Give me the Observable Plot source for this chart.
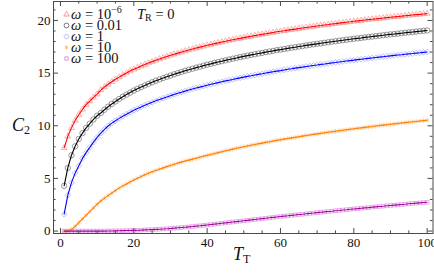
<!DOCTYPE html>
<html><head><meta charset="utf-8">
<script src="https://cdn.jsdelivr.net/npm/d3@7"></script>
<script src="https://cdn.jsdelivr.net/npm/@observablehq/plot@0.6"></script>
<style>body{margin:0;background:#fff} svg{display:block}</style>
</head><body><div id="chart"></div>
<script>
// x values (T_T)
const T = d3.range(1, 101);

const c2_w1e6 = [
  7.9, 9.0, 9.8, 10.5, 11.05, 11.55, 12.0, 12.35, 12.7, 13.0,
  13.39, 13.68, 13.94, 14.18, 14.41, 14.62, 14.82, 15.01, 15.19, 15.36,
  15.52, 15.67, 15.81, 15.96, 16.09, 16.22, 16.34, 16.46, 16.58, 16.69,
  16.80, 16.90, 17.00, 17.10, 17.20, 17.29, 17.38, 17.47, 17.55, 17.64,
  17.72, 17.80, 17.87, 17.95, 18.02, 18.10, 18.17, 18.24, 18.30, 18.37,
  18.44, 18.50, 18.56, 18.62, 18.68, 18.74, 18.80, 18.86, 18.92, 18.97,
  19.02, 19.08, 19.13, 19.18, 19.23, 19.28, 19.33, 19.38, 19.43, 19.48,
  19.52, 19.57, 19.61, 19.66, 19.70, 19.75, 19.79, 19.83, 19.87, 19.92,
  19.96, 20.00, 20.04, 20.08, 20.12, 20.15, 20.19, 20.23, 20.27, 20.31,
  20.34, 20.38, 20.41, 20.45, 20.48, 20.52, 20.55, 20.58, 20.62, 20.65
];
const c2_w001 = [
  4.3, 6.0, 7.2, 8.05, 8.75, 9.3, 9.8, 10.2, 10.6, 10.95,
  11.21, 11.52, 11.81, 12.07, 12.31, 12.54, 12.76, 12.96, 13.15, 13.34,
  13.51, 13.67, 13.83, 13.98, 14.13, 14.27, 14.40, 14.53, 14.65, 14.77,
  14.89, 15.00, 15.11, 15.22, 15.32, 15.42, 15.52, 15.61, 15.71, 15.80,
  15.88, 15.97, 16.05, 16.13, 16.21, 16.29, 16.37, 16.44, 16.52, 16.59,
  16.66, 16.73, 16.79, 16.86, 16.92, 16.99, 17.05, 17.11, 17.18, 17.23,
  17.29, 17.35, 17.41, 17.46, 17.52, 17.57, 17.63, 17.68, 17.73, 17.78,
  17.83, 17.88, 17.93, 17.98, 18.03, 18.08, 18.12, 18.17, 18.21, 18.26,
  18.30, 18.34, 18.39, 18.43, 18.47, 18.51, 18.55, 18.59, 18.64, 18.68,
  18.71, 18.75, 18.79, 18.83, 18.87, 18.90, 18.94, 18.98, 19.01, 19.05
];
const c2_w1 = [
  1.6, 3.4, 4.6, 5.5, 6.2, 6.9, 7.45, 7.95, 8.45, 8.9,
  9.3, 9.65, 9.98, 10.25, 10.48, 10.70, 10.91, 11.10, 11.29, 11.47,
  11.63, 11.79, 11.94, 12.09, 12.23, 12.37, 12.50, 12.62, 12.74, 12.86,
  12.97, 13.08, 13.19, 13.29, 13.39, 13.49, 13.58, 13.67, 13.76, 13.85,
  13.94, 14.02, 14.10, 14.18, 14.26, 14.33, 14.40, 14.48, 14.55, 14.62,
  14.69, 14.75, 14.82, 14.88, 14.94, 15.01, 15.07, 15.13, 15.19, 15.24,
  15.30, 15.36, 15.41, 15.47, 15.52, 15.57, 15.63, 15.68, 15.73, 15.77,
  15.83, 15.87, 15.92, 15.97, 16.01, 16.06, 16.10, 16.15, 16.19, 16.23,
  16.28, 16.32, 16.36, 16.40, 16.44, 16.48, 16.52, 16.56, 16.60, 16.64,
  16.68, 16.72, 16.75, 16.79, 16.83, 16.86, 16.90, 16.93, 16.97, 17.00
];
const c2_w10 = [
  0.0, 0.02, 0.15, 0.45, 0.8, 1.15, 1.5, 1.85, 2.2, 2.55,
  2.86, 3.13, 3.38, 3.62, 3.86, 4.08, 4.29, 4.48, 4.67, 4.85,
  5.02, 5.18, 5.34, 5.49, 5.63, 5.76, 5.88, 6.0, 6.12, 6.23,
  6.34, 6.45, 6.55, 6.65, 6.74, 6.83, 6.92, 7.01, 7.1, 7.19,
  7.27, 7.36, 7.45, 7.54, 7.63, 7.70, 7.78, 7.86, 7.93, 8.01,
  8.08, 8.15, 8.22, 8.29, 8.35, 8.42, 8.48, 8.55, 8.61, 8.67,
  8.73, 8.79, 8.85, 8.90, 8.96, 9.02, 9.07, 9.12, 9.18, 9.23,
  9.28, 9.33, 9.38, 9.43, 9.48, 9.53, 9.57, 9.62, 9.67, 9.71,
  9.76, 9.80, 9.85, 9.89, 9.93, 9.98, 10.02, 10.06, 10.10, 10.14,
  10.18, 10.22, 10.26, 10.30, 10.34, 10.38, 10.41, 10.45, 10.49, 10.52
];
const c2_w100 = [
  0, 0, 0, 0, 0, 0, 0, 0, 0, 0,
  0, 0, 0.01, 0.01, 0.02, 0.03, 0.04, 0.05, 0.06, 0.07,
  0.08, 0.09, 0.11, 0.12, 0.14, 0.16, 0.18, 0.2, 0.22, 0.25,
  0.28, 0.31, 0.34, 0.37, 0.4, 0.43, 0.47, 0.5, 0.54, 0.58,
  0.62, 0.66, 0.7, 0.74, 0.78, 0.82, 0.86, 0.9, 0.94, 0.98,
  1.02, 1.06, 1.1, 1.14, 1.18, 1.22, 1.26, 1.3, 1.34, 1.38,
  1.42, 1.45, 1.49, 1.53, 1.57, 1.6, 1.64, 1.68, 1.71, 1.75,
  1.79, 1.82, 1.86, 1.89, 1.93, 1.96, 2.0, 2.03, 2.07, 2.1,
  2.13, 2.17, 2.2, 2.23, 2.27, 2.3, 2.33, 2.36, 2.4, 2.43,
  2.46, 2.49, 2.52, 2.55, 2.59, 2.62, 2.65, 2.68, 2.71, 2.74
];

const legendBase = ["10", "0.01", "1", "10", "100"];
const legendSup = ["\u22126", "", "", "", ""];
const xMajor = [0, 20, 40, 60, 80, 100];
const xMinor = [5, 10, 15, 25, 30, 35, 45, 50, 55, 65, 70, 75, 85, 90, 95];
const yMajor = [0, 5, 10, 15, 20];
const yMinor = [1, 2, 3, 4, 6, 7, 8, 9, 11, 12, 13, 14, 16, 17, 18, 19, 21];

const seriesValues = [c2_w1e6, c2_w001, c2_w1, c2_w10, c2_w100];
const lineColors = ["#ff0000", "#000000", "#0000ff", "#ff8000", "#a000a0"];
const markColors = ["#ff7a7a", "#555555", "#9a9aff", "#ffad60", "#d47ad4"];
const symbols = ["triangle2", "circle", "diamond2", "asterisk", "square2"];
const markR = [2.8, 2.7, 2.6, 2.2, 2.3];

const W = 434, H = 273;
const mL = 53, mR = 1.5, mT = 1, mB = 40;
const innerW = W - mL - mR, innerH = H - mT - mB;
const frameCol = "#4a4a4a";
const majLen = 5, minLen = 2.6;
const serif = "'Liberation Serif', 'DejaVu Serif', serif";

const marks = [];
seriesValues.forEach((vals, i) => {
  const data = T.map((t, j) => ({T: t, C: vals[j]}));
  marks.push(Plot.dot(data, {x: "T", y: "C", symbol: () => symbols[i], stroke: markColors[i], fill: "none", r: markR[i], strokeWidth: 0.6}));
});
seriesValues.forEach((vals, i) => {
  const data = T.map((t, j) => ({T: t, C: vals[j]}));
  marks.push(Plot.line(data, {x: "T", y: "C", stroke: lineColors[i], strokeWidth: 1.1, curve: "linear"}));
});
// frame ticks (inside, all four sides)
marks.push(
  Plot.tickX(xMajor, {x: d => d, insetTop: innerH - majLen, stroke: frameCol}),
  Plot.tickX(xMinor, {x: d => d, insetTop: innerH - minLen, stroke: frameCol}),
  Plot.tickX(xMajor, {x: d => d, insetBottom: innerH - majLen, stroke: frameCol}),
  Plot.tickX(xMinor, {x: d => d, insetBottom: innerH - minLen, stroke: frameCol}),
  Plot.tickY(yMajor, {y: d => d, insetRight: innerW - majLen, stroke: frameCol}),
  Plot.tickY(yMinor, {y: d => d, insetRight: innerW - minLen, stroke: frameCol}),
  Plot.tickY(yMajor, {y: d => d, insetLeft: innerW - majLen, stroke: frameCol}),
  Plot.tickY(yMinor, {y: d => d, insetLeft: innerW - minLen, stroke: frameCol}),
  Plot.frame({stroke: frameCol, strokeWidth: 1}),
  Plot.axisX({ticks: xMajor, tickSize: 0, tickPadding: 4, label: null, fill: "#111", fontFamily: serif, fontSize: 13}),
  Plot.axisY({ticks: yMajor, tickSize: 0, tickPadding: 3, label: null, fill: "#111", fontFamily: serif, fontSize: 13})
);
// legend symbols
const legRow0 = 14, legDy = 11, legX = 66;
symbols.forEach((s, i) => {
  marks.push(Plot.dot([0], {frameAnchor: "top-left", dx: legX - mL, dy: legRow0 + i * legDy - mT,
    symbol: () => s, stroke: markColors[i], fill: "none", r: markR[i] * 0.9, strokeWidth: 0.8}));
});

const plot = Plot.plot({
  width: W, height: H,
  marginLeft: mL, marginRight: mR, marginTop: mT, marginBottom: mB,
  x: {domain: [-1.9, 101.6]},
  y: {domain: [-0.23, 21.8]},
  style: {fontFamily: serif, fontSize: "13px", background: "#fff"},
  marks
});
document.getElementById("chart").appendChild(plot);

const svg = d3.select(plot);
function addText(x, y, size) {
  return svg.append("text").attr("x", x).attr("y", y)
    .attr("text-anchor", "start")
    .attr("font-family", serif).attr("font-size", size).attr("fill", "#111");
}
// legend text
legendBase.forEach((b, i) => {
  const t = addText(71, legRow0 + i * legDy + 4.6, 14.5);
  t.append("tspan").attr("font-style", "italic").text("\u03C9");
  t.append("tspan").text(" = " + b);
  if (legendSup[i]) t.append("tspan").attr("font-size", 10).attr("dy", -6).text(legendSup[i]);
});
// T_R = 0
{
  const t = addText(137, 18.6, 14.5);
  t.append("tspan").attr("font-style", "italic").text("T");
  t.append("tspan").attr("font-size", 10).attr("dy", 2.5).text("R");
  t.append("tspan").attr("dy", -2.5).text(" = 0");
}
// axis titles
{
  const t = addText(233, 260, 18);
  t.append("tspan").attr("font-style", "italic").text("T");
  t.append("tspan").attr("font-size", 12).attr("dy", 3).text("T");
}
{
  const t = addText(12, 131, 18);
  t.append("tspan").attr("font-style", "italic").text("C");
  t.append("tspan").attr("font-size", 12).attr("dy", 3).text("2");
}
</script>
</body></html>
